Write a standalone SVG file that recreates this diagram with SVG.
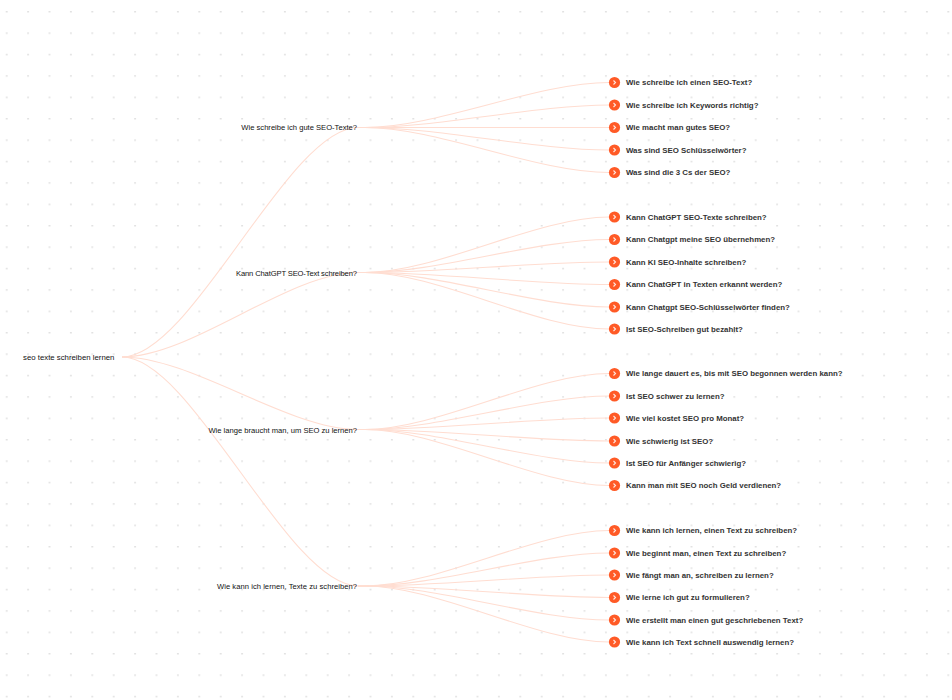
<svg xmlns="http://www.w3.org/2000/svg" width="952" height="700" viewBox="0 0 952 700">
<style>
.e{fill:none;stroke:#ffddd1;stroke-width:1.1}
.t{font:7.6px "Liberation Sans",Arial,sans-serif;fill:#111}
.m{text-anchor:end}
.l{font:bold 7.85px "Liberation Sans",Arial,sans-serif;fill:#333}
.b{fill:#ff5a26}
.c{fill:none;stroke:#ffe9e0;stroke-width:1.1}
</style>
<defs>
<pattern id="g" width="21.4" height="21.4" patternUnits="userSpaceOnUse" x="-4" y="11"><circle cx="10.7" cy="0.7" r="1" fill="#e2e2e2"/></pattern>
<g id="k"><circle class="b" r="5.6"/><path class="c" d="M-1-2L1 0L-1 2"/></g>
</defs>
<rect width="952" height="700" fill="#fff"/>
<rect width="952" height="700" fill="url(#g)"/>
<g id="connectors">
<path class="e" d="M122 357C192 357 288 127.500 358 127.500"/>
<path class="e" d="M122 357C192 357 288 272.500 358 272.500"/>
<path class="e" d="M122 357C192 357 288 429.500 358 429.500"/>
<path class="e" d="M122 357C192 357 288 586 358 586"/>
<path class="e" d="M358 127.500H365C438 127.500 536 82.500 609 82.500"/>
<path class="e" d="M358 127.500H365C438 127.500 536 105 609 105"/>
<path class="e" d="M358 127.500H609"/>
<path class="e" d="M358 127.500H365C438 127.500 536 150 609 150"/>
<path class="e" d="M358 127.500H365C438 127.500 536 172.500 609 172.500"/>
<path class="e" d="M358 272.500H365C438 272.500 536 217 609 217"/>
<path class="e" d="M358 272.500H365C438 272.500 536 239.500 609 239.500"/>
<path class="e" d="M358 272.500H365C438 272.500 536 262 609 262"/>
<path class="e" d="M358 272.500H365C438 272.500 536 284.500 609 284.500"/>
<path class="e" d="M358 272.500H365C438 272.500 536 307 609 307"/>
<path class="e" d="M358 272.500H365C438 272.500 536 329 609 329"/>
<path class="e" d="M358 429.500H365C438 429.500 536 373.500 609 373.500"/>
<path class="e" d="M358 429.500H365C438 429.500 536 396 609 396"/>
<path class="e" d="M358 429.500H365C438 429.500 536 418 609 418"/>
<path class="e" d="M358 429.500H365C438 429.500 536 441 609 441"/>
<path class="e" d="M358 429.500H365C438 429.500 536 463 609 463"/>
<path class="e" d="M358 429.500H365C438 429.500 536 485.500 609 485.500"/>
<path class="e" d="M358 586H365C438 586 536 530.500 609 530.500"/>
<path class="e" d="M358 586H365C438 586 536 553 609 553"/>
<path class="e" d="M358 586H365C438 586 536 575 609 575"/>
<path class="e" d="M358 586H365C438 586 536 597.500 609 597.500"/>
<path class="e" d="M358 586H365C438 586 536 620 609 620"/>
<path class="e" d="M358 586H365C438 586 536 642 609 642"/>
</g>
<g id="root"><text class="t" x="23" y="360" style="font-size:7.8px">seo texte schreiben lernen</text></g>
<g id="n1"><text class="t m" x="357" y="130">Wie schreibe ich gute SEO-Texte?</text></g>
<g id="n2"><text class="t m" x="357" y="275.500" textLength="121">Kann ChatGPT SEO-Text schreiben?</text></g>
<g id="n3"><text class="t m" x="357" y="432.500">Wie lange braucht man, um SEO zu lernen?</text></g>
<g id="n4"><text class="t m" x="357" y="589" textLength="140">Wie kann ich lernen, Texte zu schreiben?</text></g>
<g id="a1"><use href="#k" x="614.500" y="82.500"/><text class="l" x="626" y="85">Wie schreibe ich einen SEO-Text?</text></g>
<g id="a2"><use href="#k" x="614.500" y="105"/><text class="l" x="626" y="107.500">Wie schreibe ich Keywords richtig?</text></g>
<g id="a3"><use href="#k" x="614.500" y="127.500"/><text class="l" x="626" y="130">Wie macht man gutes SEO?</text></g>
<g id="a4"><use href="#k" x="614.500" y="150"/><text class="l" x="626" y="152.500">Was sind SEO Schlüsselwörter?</text></g>
<g id="a5"><use href="#k" x="614.500" y="172.500"/><text class="l" x="626" y="175">Was sind die 3 Cs der SEO?</text></g>
<g id="b1"><use href="#k" x="614.500" y="217"/><text class="l" x="626" y="219.500">Kann ChatGPT SEO-Texte schreiben?</text></g>
<g id="b2"><use href="#k" x="614.500" y="239.500"/><text class="l" x="626" y="242">Kann Chatgpt meine SEO übernehmen?</text></g>
<g id="b3"><use href="#k" x="614.500" y="262"/><text class="l" x="626" y="264.500">Kann KI SEO-Inhalte schreiben?</text></g>
<g id="b4"><use href="#k" x="614.500" y="284.500"/><text class="l" x="626" y="287">Kann ChatGPT in Texten erkannt werden?</text></g>
<g id="b5"><use href="#k" x="614.500" y="307"/><text class="l" x="626" y="309.500">Kann Chatgpt SEO-Schlüsselwörter finden?</text></g>
<g id="b6"><use href="#k" x="614.500" y="329"/><text class="l" x="626" y="331.500">Ist SEO-Schreiben gut bezahlt?</text></g>
<g id="c1"><use href="#k" x="614.500" y="373.500"/><text class="l" x="626" y="376">Wie lange dauert es, bis mit SEO begonnen werden kann?</text></g>
<g id="c2"><use href="#k" x="614.500" y="396"/><text class="l" x="626" y="398.500">Ist SEO schwer zu lernen?</text></g>
<g id="c3"><use href="#k" x="614.500" y="418"/><text class="l" x="626" y="420.500">Wie viel kostet SEO pro Monat?</text></g>
<g id="c4"><use href="#k" x="614.500" y="441"/><text class="l" x="626" y="443.500">Wie schwierig ist SEO?</text></g>
<g id="c5"><use href="#k" x="614.500" y="463"/><text class="l" x="626" y="465.500">Ist SEO für Anfänger schwierig?</text></g>
<g id="c6"><use href="#k" x="614.500" y="485.500"/><text class="l" x="626" y="488">Kann man mit SEO noch Geld verdienen?</text></g>
<g id="d1"><use href="#k" x="614.500" y="530.500"/><text class="l" x="626" y="533">Wie kann ich lernen, einen Text zu schreiben?</text></g>
<g id="d2"><use href="#k" x="614.500" y="553"/><text class="l" x="626" y="555.500">Wie beginnt man, einen Text zu schreiben?</text></g>
<g id="d3"><use href="#k" x="614.500" y="575"/><text class="l" x="626" y="577.500">Wie fängt man an, schreiben zu lernen?</text></g>
<g id="d4"><use href="#k" x="614.500" y="597.500"/><text class="l" x="626" y="600">Wie lerne ich gut zu formulieren?</text></g>
<g id="d5"><use href="#k" x="614.500" y="620"/><text class="l" x="626" y="622.500">Wie erstellt man einen gut geschriebenen Text?</text></g>
<g id="d6"><use href="#k" x="614.500" y="642"/><text class="l" x="626" y="644.500">Wie kann ich Text schnell auswendig lernen?</text></g>
</svg>
